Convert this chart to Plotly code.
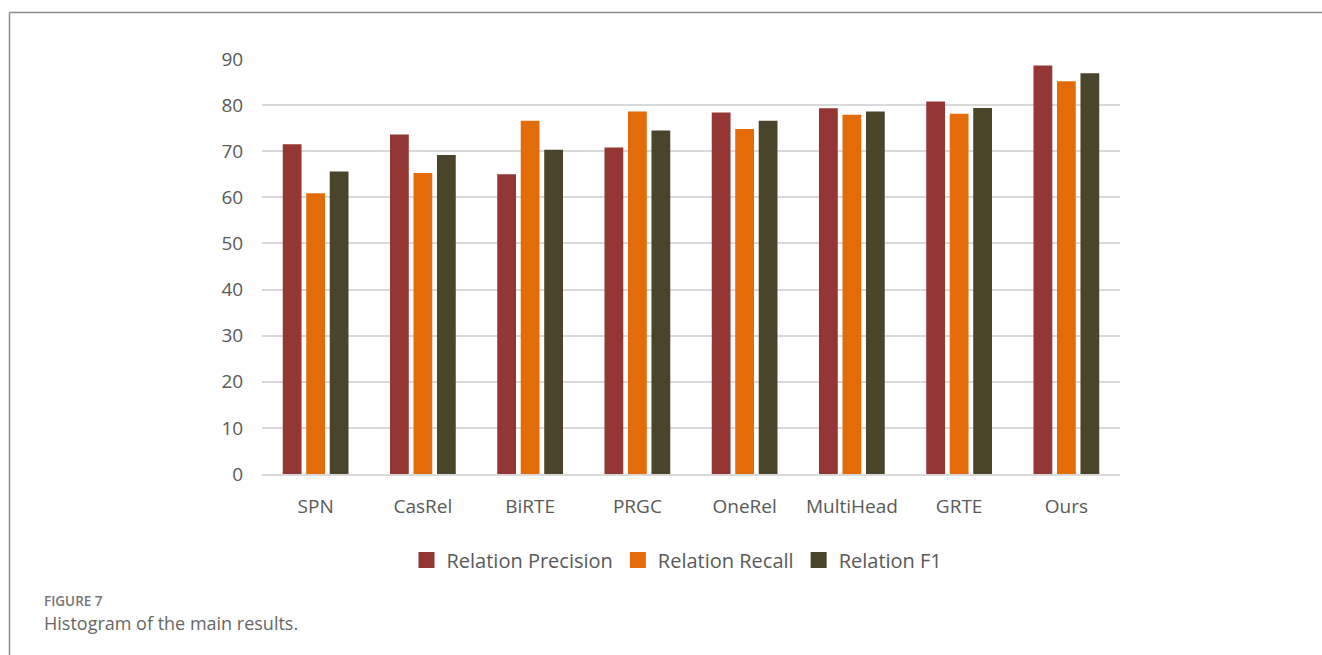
import plotly.graph_objects as go

categories = ["SPN", "CasRel", "BiRTE", "PRGC", "OneRel", "MultiHead", "GRTE", "Ours"]
precision = [71.5, 73.6, 65.0, 70.8, 78.4, 79.3, 80.8, 88.6]
recall = [60.9, 65.3, 76.6, 78.6, 74.8, 77.9, 78.1, 85.2]
f1 = [65.6, 69.2, 70.3, 74.5, 76.6, 78.6, 79.4, 86.9]
series_names = ["Relation Precision", "Relation Recall", "Relation F1"]
colors = ["#943634", "#E36C09", "#4A452A"]
y_ticks = [0, 10, 20, 30, 40, 50, 60, 70, 80, 90]

W, H = 1322, 655
L, R, T, B = 262, 1120, 59, 474
pw, ph = R - L, B - T

def px(x):
    return (x - L) / pw

def py(y):
    return (B - y) / ph

fig = go.Figure()
for name, vals, c in zip(series_names, [precision, recall, f1], colors):
    fig.add_trace(go.Bar(x=categories, y=vals, name=name, showlegend=False,
                         marker=dict(color=c, line=dict(width=0))))
# legend entries with larger square swatches
for name, c in zip(series_names, colors):
    fig.add_trace(go.Scatter(x=[None], y=[None], mode="markers", name=name,
                             marker=dict(symbol="square", size=16, color=c)))

font = "Open Sans, Lato, sans-serif"
fig.update_layout(
    width=W, height=H,
    margin=dict(l=L, r=W - R, t=T, b=H - B),
    paper_bgcolor="white", plot_bgcolor="white",
    barmode="group", bargap=0.343, bargroupgap=0.2,
    font=dict(family=font, color="#595959", size=18),
    showlegend=True,
    legend=dict(orientation="h", x=px(677), xanchor="center", y=py(560), yanchor="middle",
                font=dict(size=20, color="#595959"), itemwidth=30, traceorder="normal"),
    xaxis=dict(showline=True, linecolor="#d9d9d9", linewidth=1.5, showgrid=False,
               tickfont=dict(size=19, color="#595959"), ticks="outside", ticklen=14,
               tickcolor="rgba(0,0,0,0)"),
    yaxis=dict(range=[0, 90], tickvals=y_ticks, showgrid=True, gridcolor="#d9d9d9",
               gridwidth=1.5, zeroline=False, showline=False,
               tickfont=dict(size=19, color="#595959"), ticks="outside", ticklen=14,
               tickcolor="rgba(0,0,0,0)"),
    shapes=[
        dict(type="line", xref="paper", yref="paper", x0=px(9.5), x1=px(1330), y0=py(12.5), y1=py(12.5),
             line=dict(color="#8c8c8c", width=1.5)),
        dict(type="line", xref="paper", yref="paper", x0=px(9.5), x1=px(9.5), y0=py(12.5), y1=py(660),
             line=dict(color="#8c8c8c", width=1.5)),
    ],
    annotations=[
        dict(text="FIGURE 7", xref="paper", yref="paper", x=px(42), y=py(601), xanchor="left",
             yanchor="middle", showarrow=False,
             font=dict(size=13.5, color="#777777", family=font, weight=600)),
        dict(text="Histogram of the main results.", xref="paper", yref="paper", x=px(42), y=py(623),
             xanchor="left", yanchor="middle", showarrow=False,
             font=dict(size=18, color="#666666", family=font)),
    ],
)

fig.write_html("out.html")
